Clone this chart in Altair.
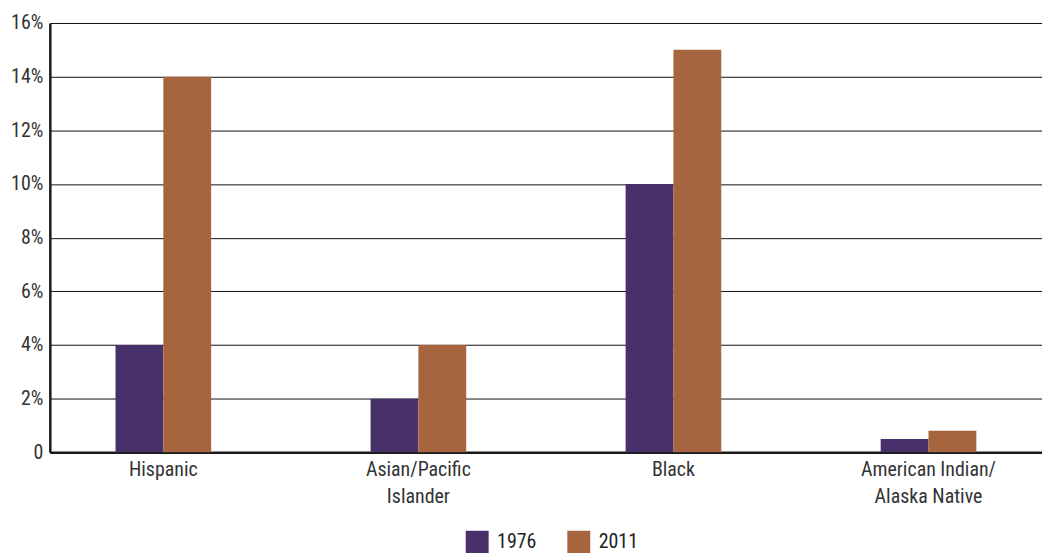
import altair as alt
import pandas as pd

categories = ["Hispanic", "Asian/Pacific Islander", "Black", "American Indian/Alaska Native"]
years = ["1976", "2011"]
values_1976 = [4, 2, 10, 0.5]
values_2011 = [14, 4, 15, 0.8]
colors = ["#48306A", "#A6653F"]
y_ticks = [0, 2, 4, 6, 8, 10, 12, 14, 16]

rows = []
for c, a, b in zip(categories, values_1976, values_2011):
    rows.append({"group": c, "year": years[0], "value": a})
    rows.append({"group": c, "year": years[1], "value": b})
df = pd.DataFrame(rows)

FONT = "Roboto Condensed"

label_expr = (
    "datum.label == 'Asian/Pacific Islander' ? ['Asian/Pacific', 'Islander'] : "
    "datum.label == 'American Indian/Alaska Native' ? ['American Indian/', 'Alaska Native'] : datum.label"
)

chart = alt.Chart(df).mark_bar().encode(
    x=alt.X("group:N", sort=categories, title=None,
            scale=alt.Scale(paddingInner=0.625, paddingOuter=0.2575),
            axis=alt.Axis(labelAngle=0, ticks=False, labelPadding=7, labelExpr=label_expr,
                          labelFontSize=20, labelLineHeight=27, labelColor="#333333",
                          labelFont=FONT, domainColor="#1a1a1a", domainWidth=2.5, grid=False)),
    xOffset=alt.XOffset("year:N", sort=years, scale=alt.Scale(paddingInner=0, paddingOuter=0)),
    y=alt.Y("value:Q", title=None,
            scale=alt.Scale(domain=[0, 16], nice=False),
            axis=alt.Axis(values=y_ticks, ticks=False, labelPadding=7,
                          labelExpr="datum.value == 0 ? '0' : datum.value + '%'",
                          labelFontSize=20, labelColor="#333333", labelFont=FONT,
                          domainColor="#1a1a1a", domainWidth=2.5,
                          grid=True, gridColor="#111111", gridWidth=1, gridOpacity=1)),
    color=alt.Color("year:N", sort=years, scale=alt.Scale(domain=years, range=colors),
                    legend=alt.Legend(title=None, orient="none", direction="horizontal",
                                      legendX=417, legendY=509, symbolType="square",
                                      symbolSize=530, symbolStrokeWidth=0, symbolOpacity=1,
                                      labelFontSize=20, labelFont=FONT, labelColor="#222222",
                                      columnPadding=30, labelOffset=8, padding=0)),
).properties(
    width=996, height=431,
    padding={"left": 42, "top": 14, "right": 0, "bottom": 100},
    autosize=alt.AutoSizeParams(type="none"),
).configure_view(stroke=None)

chart.save("out.html", embed_options={"renderer": "svg", "actions": False})
